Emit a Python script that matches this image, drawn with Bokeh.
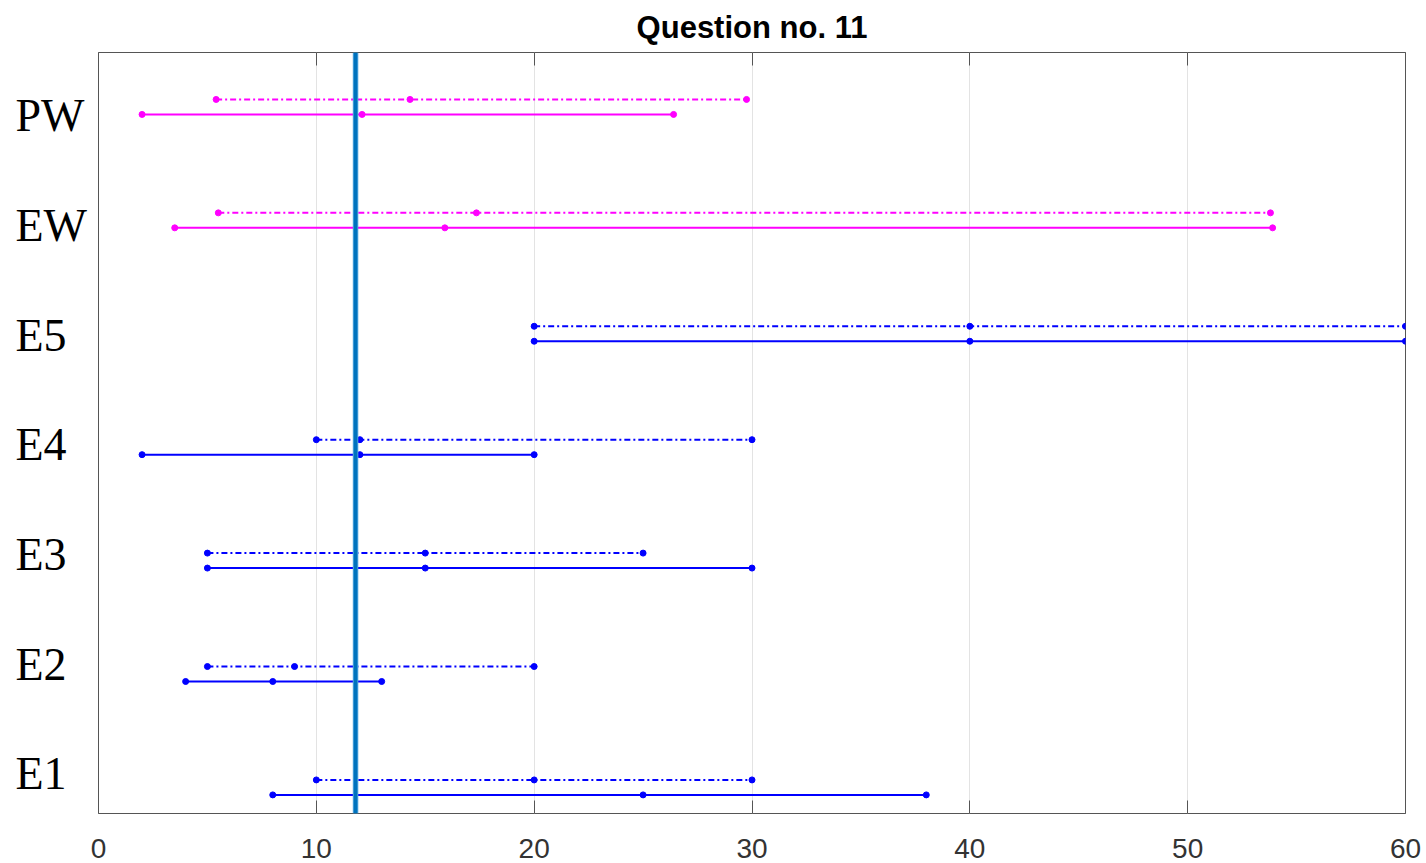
from bokeh.plotting import figure
from bokeh.layouts import row
from bokeh.core.properties import value
from bokeh.models import (ColumnDataSource, CustomLabelingPolicy, FixedTicker,
                          LinearAxis, Range1d, Span)
from bokeh.embed import file_html
from bokeh.resources import INLINE

# Estimates per group: low / central / high, for two rounds of answers
categories = ["E1", "E2", "E3", "E4", "E5", "EW", "PW"]
dashed_low = [10, 5, 5, 10, 20, 5.5, 5.4]
dashed_mid = [20, 9, 15, 12, 40, 17.35, 14.3]
dashed_high = [30, 20, 25, 30, 60, 53.8, 29.75]
solid_low = [8, 4, 5, 2, 20, 3.5, 2]
solid_mid = [25, 8, 15, 12, 40, 15.9, 12.1]
solid_high = [38, 13, 30, 20, 60, 53.9, 26.4]
group_colors = ["#0000FF"] * 5 + ["#FF00FF"] * 2
reference_value = 11.8
x_ticks = [0, 10, 20, 30, 40, 50, 60]

Y_START, Y_END = 0.77, 7.48
OFFSET = 0.066
TOP, BOTTOM = 52, 50
LABEL_W = 89
HEIGHT = 863

y_range = Range1d(Y_START, Y_END)

p = figure(width=1426 - LABEL_W, height=HEIGHT, x_range=Range1d(0, 60),
           y_range=y_range, output_backend="svg",
           toolbar_location=None, y_axis_location=None,
           min_border_left=98 - LABEL_W, min_border_right=21,
           min_border_top=TOP, min_border_bottom=BOTTOM)
p.background_fill_color = "white"
p.border_fill_color = "white"
p.outline_line_color = "#555555"
p.outline_line_width = 1

p.title.text = "Question no. 11"
p.title.align = "center"
p.title.text_font = "Liberation Sans"
p.title.text_font_style = "bold"
p.title.text_font_size = "31px"
p.title.text_color = "black"
p.title.standoff = 15

positions = list(range(1, len(categories) + 1))


def draw_row(low, mid, high, shift, dash):
    ys = [k + shift for k in positions]
    src = ColumnDataSource(dict(lo=low, hi=high, y=ys, c=group_colors))
    p.segment(x0="lo", y0="y", x1="hi", y1="y", source=src,
              line_color="c", line_width=2, line_dash=dash)
    pts = ColumnDataSource(dict(x=list(low) + list(mid) + list(high),
                                y=ys * 3, c=group_colors * 3))
    p.scatter(x="x", y="y", source=pts, size=6, marker="circle",
              fill_color="c", line_color="c")


draw_row(dashed_low, dashed_mid, dashed_high, OFFSET, "6 3 2 3")
draw_row(solid_low, solid_mid, solid_high, -OFFSET, "solid")

# reference line
p.add_layout(Span(location=reference_value, dimension="height",
                  line_color="#4fa3dc", line_width=5.5))
p.add_layout(Span(location=reference_value, dimension="height",
                  line_color="#0072BD", line_width=3.5))

# bottom axis with inward ticks
p.xaxis.ticker = FixedTicker(ticks=x_ticks)
p.xaxis.axis_line_color = None
p.xaxis.major_tick_in = 13
p.xaxis.major_tick_out = 0
p.xaxis.major_tick_line_color = "#555555"
p.xaxis.minor_tick_line_color = None
p.xaxis.major_label_text_font = "Liberation Sans"
p.xaxis.major_label_text_font_size = "28px"
p.xaxis.major_label_text_color = "#333333"
p.xaxis.major_label_standoff = 25

# top edge: inward ticks only, no labels
top = LinearAxis(ticker=FixedTicker(ticks=x_ticks), axis_line_color=None,
                 major_tick_in=13, major_tick_out=0,
                 major_tick_line_color="#555555", minor_tick_line_color=None,
                 major_label_text_font_size="0px", major_label_standoff=0,
                 major_label_policy=CustomLabelingPolicy(code="return []"))
p.add_layout(top, "above")

p.xgrid.grid_line_color = "#e3e3e3"
p.xgrid.grid_line_width = 1
p.ygrid.grid_line_color = None

# group names, left-aligned in a narrow strip sharing the y range
names = figure(width=LABEL_W, height=HEIGHT, x_range=Range1d(0, LABEL_W),
               y_range=y_range, output_backend="svg", toolbar_location=None,
               x_axis_location=None, y_axis_location=None,
               min_border_left=0, min_border_right=0,
               min_border_top=TOP, min_border_bottom=BOTTOM)
names.outline_line_color = None
names.background_fill_color = "white"
names.border_fill_color = "white"
names.xgrid.grid_line_color = None
names.ygrid.grid_line_color = None
label_y = [1.12 + 0.967 * i for i in range(len(categories))]
names.text(x=[15] * len(categories), y=label_y, text=categories,
           text_font=value("Liberation Serif"), text_font_size="46px",
           text_color="black", text_align="left", text_baseline="middle")

layout = row(names, p)
open("out.html", "w").write(file_html(layout, INLINE))
